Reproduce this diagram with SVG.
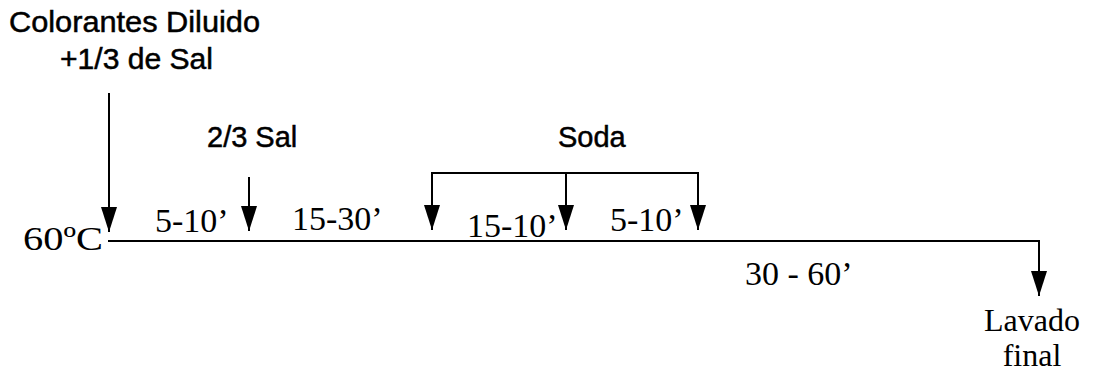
<svg xmlns="http://www.w3.org/2000/svg" width="1098" height="376" viewBox="0 0 1098 376">
<defs>
<marker id="ahd" markerUnits="userSpaceOnUse" markerWidth="26" markerHeight="18" viewBox="0 0 26 18" refX="25" refY="9" orient="auto">
<path d="M0,1 L25,9 L0,17 Z" fill="#000"/>
</marker>
<style>
.s{font-family:"Liberation Sans",Arial,sans-serif;font-size:29px;fill:#000;stroke:#000;stroke-width:0.5}
.t{font-family:"Liberation Serif","Times New Roman",serif;font-size:34px;fill:#000}
.ln{stroke:#000;stroke-width:2;fill:none}
.ar{stroke:#000;stroke-width:2;fill:none;marker-end:url(#ahd)}
</style>
</defs>
<g id="connectors">
<path class="ar" d="M109,93 V232"/>
<path class="ar" d="M249,177 V231"/>
<path class="ln" d="M432,173 H698"/>
<path class="ar" d="M432,172 V230"/>
<path class="ar" d="M566,173 V230"/>
<path class="ar" d="M698,172 V230"/>
<path class="ar" d="M108,241 H1039 V296"/>
</g>
<g id="n-colorantes">
<text class="s" x="9" y="32" textLength="251" lengthAdjust="spacingAndGlyphs">Colorantes Diluido</text>
<text class="s" x="60" y="69" textLength="153" lengthAdjust="spacingAndGlyphs">+1/3 de Sal</text>
</g>
<g id="n-sal"><text class="s" x="207" y="147">2/3 Sal</text></g>
<g id="n-soda"><text class="s" x="558" y="147">Soda</text></g>
<g id="n-temp"><text class="t" x="23" y="250" textLength="80" lengthAdjust="spacingAndGlyphs">60ºC</text></g>
<g id="n-t1"><text class="t" x="155" y="232">5-10’</text></g>
<g id="n-t2"><text class="t" x="292" y="230">15-30’</text></g>
<g id="n-t3"><text class="t" x="467" y="237">15-10’</text></g>
<g id="n-t4"><text class="t" x="610" y="231">5-10’</text></g>
<g id="n-t5"><text class="t" x="745" y="285">30 - 60’</text></g>
<g id="n-lavado">
<text class="t" x="1032" y="331" text-anchor="middle" style="font-size:32px">Lavado</text>
<text class="t" x="1032" y="366" text-anchor="middle" style="font-size:32px">final</text>
</g>
</svg>
